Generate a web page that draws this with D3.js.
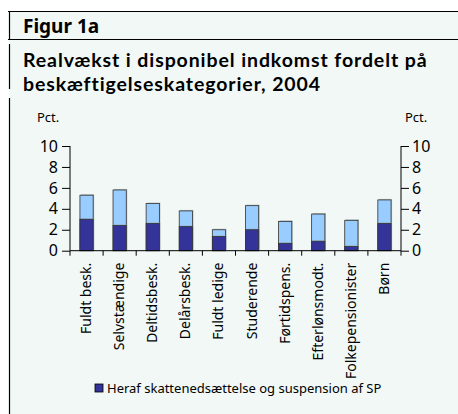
<!DOCTYPE html>
<html>
<head>
<meta charset="utf-8">
<script src="https://cdn.jsdelivr.net/npm/d3@7"></script>
<style>
  body { margin: 0; background: #fff; }
  svg { display: block; font-family: "Noto Sans", "Open Sans", sans-serif; }
</style>
</head>
<body>
<div id="chart"></div>
<script>
// categories and values (pct.)
var categories = ["Fuldt besk.", "Selvstændige", "Deltidsbesk.", "Delårsbesk.", "Fuldt ledige",
    "Studerende", "Førtidspens.", "Efterlønsmodt.", "Folkepensionister", "Børn"];
var totalGrowth = [5.3, 5.8, 4.5, 3.8, 2.0, 4.3, 2.8, 3.5, 2.9, 4.85];
var herafSP = [3.0, 2.4, 2.6, 2.3, 1.35, 2.0, 0.7, 0.9, 0.4, 2.6];
var yTicks = [0, 2, 4, 6, 8, 10];

var width = 458,
    height = 414;

var svg = d3.select("#chart").append("svg")
    .attr("width", width)
    .attr("height", height);

// panel background and frame lines
svg.append("rect").attr("x", 9).attr("y", 11).attr("width", width - 9).attr("height", height - 11)
    .attr("fill", "#f1f8f6");
svg.append("line").attr("x1", 8).attr("x2", width).attr("y1", 11.5).attr("y2", 11.5)
    .attr("stroke", "#000").attr("stroke-width", 1.2);
svg.append("line").attr("x1", 8).attr("x2", width).attr("y1", 39.5).attr("y2", 39.5)
    .attr("stroke", "#000").attr("stroke-width", 1);
[[11, 40], [44, 89], [98, height]].forEach(function(s) {
    svg.append("line").attr("x1", 9.5).attr("x2", 9.5).attr("y1", s[0]).attr("y2", s[1])
        .attr("stroke", "#000").attr("stroke-width", 1.2);
});

svg.append("text").attr("x", 23).attr("y", 33)
    .attr("font-size", 19).attr("font-weight", "bold").text("Figur 1a");

// title, Lato has a tighter line box so the two lines don't collide
var titleLines = ["Realvækst i disponibel indkomst fordelt på", "beskæftigelseskategorier, 2004"];
svg.selectAll(".title").data(titleLines).enter().append("text")
    .attr("x", 23).attr("y", function(d, i) { return 67 + i * 23.5; })
    .attr("font-family", "Lato, sans-serif")
    .attr("font-size", 19.5).attr("font-weight", "bold")
    .attr("letter-spacing", 0.9)
    .text(function(d) { return d; });

var x0 = 70, x1 = 401;
var x = d3.scaleBand().domain(categories).range([x0, x1]).paddingInner(0).paddingOuter(0);
var y = d3.scaleLinear().domain([0, 10]).range([250.7, 146]);

svg.append("text").attr("x", 37).attr("y", 122).attr("font-size", 13).text("Pct.");
svg.append("text").attr("x", 405).attr("y", 122).attr("font-size", 13).text("Pct.");

// bars: total with overlaid "heraf" part
var barW = x.bandwidth() * 0.4;
var g = svg.append("g");

function bar(sel, vals, fill) {
    sel.selectAll(null).data(vals).enter().append("rect")
        .attr("x", function(d, i) { return x(categories[i]) + (x.bandwidth() - barW) / 2 + 1; })
        .attr("y", function(d) { return y(d) - 1; })
        .attr("width", barW)
        .attr("height", function(d) { return y(0) - y(d); })
        .attr("fill", "#8a9a98").attr("opacity", 0.6);
    sel.selectAll(null).data(vals).enter().append("rect")
        .attr("x", function(d, i) { return x(categories[i]) + (x.bandwidth() - barW) / 2; })
        .attr("y", function(d) { return y(d); })
        .attr("width", barW)
        .attr("height", function(d) { return y(0) - y(d); })
        .attr("fill", fill)
        .attr("stroke", "#333").attr("stroke-width", 0.8);
}
bar(g, totalGrowth, "#99ccff");
bar(g, herafSP, "#333399");

// axes
var yLeft = svg.append("g").attr("transform", "translate(" + x0 + ",0)")
    .call(d3.axisLeft(y).tickValues(yTicks).tickSize(8).tickPadding(4));
var yRight = svg.append("g").attr("transform", "translate(" + x1 + ",0)")
    .call(d3.axisRight(y).tickValues(yTicks).tickSize(8).tickPadding(3));
[yLeft, yRight].forEach(function(a) {
    a.select(".domain").attr("d", "M0," + y(10) + "V" + y(0));
    a.selectAll("text").attr("font-size", 16).attr("font-family", "Noto Sans, sans-serif").attr("fill", "#000");
});

var xAxis = svg.append("g").attr("transform", "translate(0," + y(0) + ")");
xAxis.append("line").attr("x1", x0).attr("x2", x1).attr("stroke", "#000");
xAxis.selectAll(".tk").data(categories.concat(["end"])).enter().append("line")
    .attr("x1", function(d, i) { return x0 + i * x.bandwidth(); })
    .attr("x2", function(d, i) { return x0 + i * x.bandwidth(); })
    .attr("y1", 0).attr("y2", 5).attr("stroke", "#000");
xAxis.selectAll(".lbl").data(categories).enter().append("text")
    .attr("transform", function(d) {
        return "translate(" + (x(d) + x.bandwidth() / 2 + 4.5) + ",12) rotate(-90)";
    })
    .attr("text-anchor", "end")
    .attr("font-size", 14)
    .text(function(d) { return d; });

// legend
svg.append("rect").attr("x", 95).attr("y", 384).attr("width", 8).attr("height", 8)
    .attr("fill", "#333399").attr("stroke", "#000").attr("stroke-width", 0.8);
svg.append("text").attr("x", 107).attr("y", 393).attr("font-size", 13)
    .text("Heraf skattenedsættelse og suspension af SP");
</script>
</body>
</html>
